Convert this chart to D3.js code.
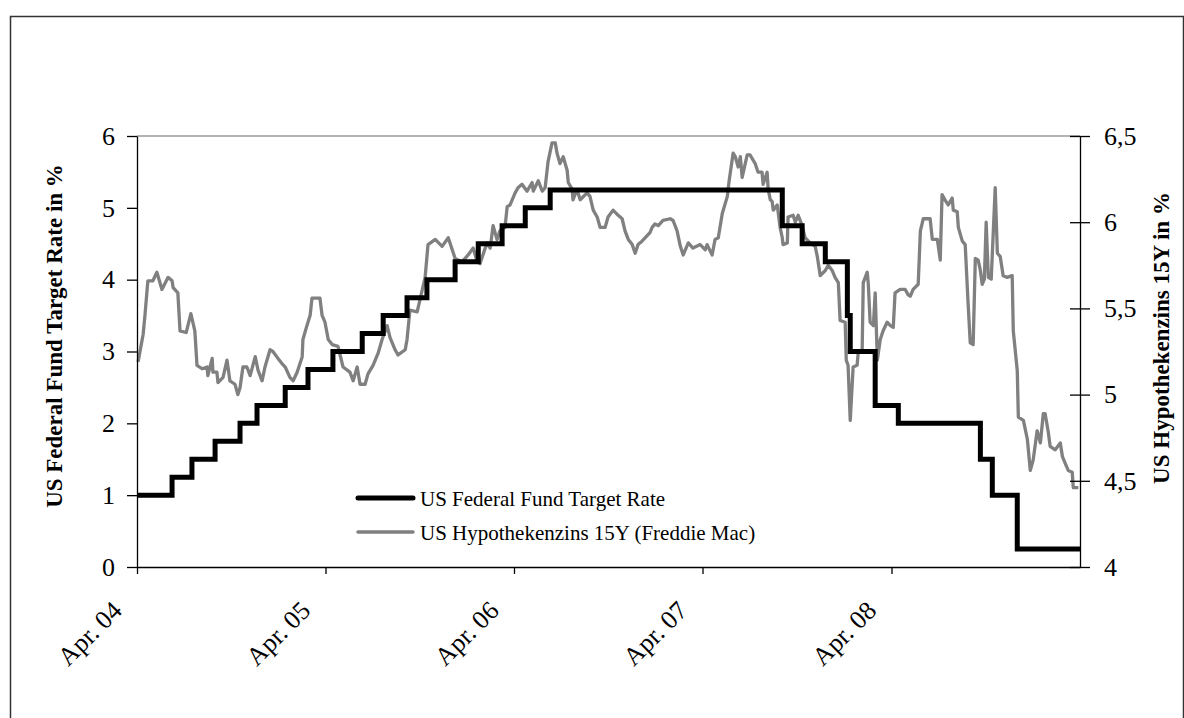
<!DOCTYPE html>
<html>
<head>
<meta charset="utf-8">
<script src="https://cdn.jsdelivr.net/npm/d3@7"></script>
<style>
  body { margin: 0; background: #fff; }
  svg text { font-family: "Liberation Serif", "Times New Roman", serif; }
</style>
</head>
<body>
<script>
// weeks counted from the first observation (22 Apr 2004)
var startDate = new Date(2004, 3, 22);
var endDate = new Date(2009, 3, 22);

var tickDates = ["2004-04-22", "2005-04-22", "2006-04-22", "2007-04-22", "2008-04-22"];
var tickLabels = ["Apr. 04", "Apr. 05", "Apr. 06", "Apr. 07", "Apr. 08"];

var leftTicks = [0, 1, 2, 3, 4, 5, 6];
var rightTicks = [4, 4.5, 5, 5.5, 6, 6.5];

// US Federal Fund Target Rate (step series)
var fedWeeks = [0, 9.7, 15.2, 21.6, 28.5, 33.2, 41.0, 47.3, 54.2, 62.3, 68.1, 74.7, 80.2, 88.0, 94.4,
  101.0, 107.4, 114.3, 178.5, 184.0, 190.4, 196.5, 197.3, 204.2, 210.6, 233.3, 236.6, 243.5, 260.9];
var fedRates = [1, 1.25, 1.5, 1.75, 2, 2.25, 2.5, 2.75, 3, 3.25, 3.5, 3.75, 4, 4.25, 4.5,
  4.75, 5, 5.25, 4.75, 4.5, 4.25, 3.5, 3, 2.25, 2, 1.5, 1, 0.25, 0.25];

// US Hypothekenzins 15Y (Freddie Mac)
var mortWeeks = [0.3, 1.7, 2.2, 3.0, 4.4, 5.5, 6.9, 8.6, 9.7, 10.0, 11.3, 11.9, 13.6, 14.9, 16.0, 16.6,
  18.0, 19.4, 19.6, 20.8, 21.0, 22.1, 22.4, 23.8, 24.9, 25.7, 27.1, 27.9, 28.5, 29.3, 30.4, 31.3,
  32.7, 33.5, 34.6, 35.4, 36.8, 37.6, 39.0, 40.1, 41.0, 42.3, 43.2, 44.3, 45.7, 45.9, 47.0, 47.9,
  48.4, 50.6, 51.2, 52.0, 52.9, 54.0, 55.6, 57.0, 58.9, 59.8, 60.9, 61.7, 63.1, 63.9, 65.3, 66.7,
  67.8, 69.2, 70.0, 71.4, 72.2, 74.2, 74.7, 75.5, 77.5, 79.7, 80.5, 82.5, 84.4, 86.1, 88.0, 89.9,
  91.6, 93.0, 94.1, 94.9, 96.8, 97.7, 98.5, 99.6, 100.4, 101.8, 102.4, 103.2, 104.6, 105.4, 106.5,
  107.9, 109.3, 109.6, 111.0, 112.1, 112.9, 113.7, 114.8, 115.7, 116.2, 117.0, 117.9, 119.0, 119.3,
  120.4, 120.6, 121.7, 122.6, 124.5, 125.3, 126.2, 127.3, 128.1, 129.5, 130.3, 131.7, 133.1, 134.2,
  135.0, 135.9, 137.0, 137.8, 138.6, 139.7, 140.6, 141.9, 142.5, 143.3, 144.2, 145.5, 147.5, 148.3,
  149.4, 150.3, 151.1, 152.5, 153.8, 155.8, 157.2, 157.7, 159.1, 159.9, 160.8, 161.9, 163.3, 163.8,
  164.9, 165.5, 166.3, 166.9, 167.4, 168.8, 169.6, 171.0, 171.8, 172.9, 173.2, 174.3, 174.6, 175.2,
  175.7, 176.0, 177.1, 177.9, 178.5, 178.7, 179.9, 180.1, 181.5, 182.1, 182.9, 184.0, 184.8, 186.2,
  187.6, 188.2, 189.0, 190.4, 191.2, 192.3, 193.1, 194.0, 194.5, 195.9, 196.2, 196.7, 197.3, 198.1,
  199.2, 199.5, 200.6, 200.9, 202.0, 202.3, 202.8, 203.7, 204.2, 204.8, 205.6, 206.4, 207.5, 208.4,
  209.2, 209.7, 211.1, 212.5, 213.3, 213.9, 214.7, 216.1, 216.7, 217.5, 219.4, 220.0, 221.4, 222.2,
  222.7, 223.5, 224.4, 225.5, 225.8, 226.9, 227.2, 228.3, 229.1, 229.9, 230.5, 231.3, 231.9, 232.7,
  233.3, 233.8, 234.4, 234.9, 235.5, 236.3, 237.4, 238.0, 238.8, 239.6, 240.7, 242.1, 242.4, 243.5,
  243.8, 245.2, 246.3, 247.1, 247.9, 249.0, 249.9, 250.7, 251.2, 252.1, 252.6, 254.0, 255.4, 256.0,
  256.8, 257.6, 258.7, 259.0, 260.4];
var mortRates = [5.19, 5.35, 5.46, 5.66, 5.66, 5.71, 5.61, 5.68, 5.66, 5.62, 5.59, 5.37, 5.36, 5.47, 5.37, 5.17,
  5.15, 5.16, 5.11, 5.21, 5.13, 5.13, 5.07, 5.10, 5.20, 5.08, 5.06, 5.00, 5.04, 5.16, 5.16, 5.11,
  5.22, 5.14, 5.08, 5.16, 5.26, 5.25, 5.21, 5.18, 5.16, 5.10, 5.08, 5.13, 5.22, 5.32, 5.40, 5.46,
  5.56, 5.56, 5.46, 5.42, 5.32, 5.29, 5.28, 5.16, 5.13, 5.08, 5.16, 5.06, 5.06, 5.12, 5.17, 5.24,
  5.32, 5.40, 5.33, 5.26, 5.23, 5.26, 5.32, 5.49, 5.48, 5.68, 5.87, 5.90, 5.86, 5.91, 5.79, 5.77,
  5.81, 5.85, 5.77, 5.76, 5.88, 5.85, 5.98, 5.90, 5.95, 5.97, 6.09, 6.10, 6.17, 6.20, 6.22,
  6.18, 6.23, 6.18, 6.24, 6.18, 6.20, 6.35, 6.46, 6.46, 6.40, 6.34, 6.38, 6.30, 6.23,
  6.19, 6.13, 6.19, 6.13, 6.17, 6.15, 6.07, 6.03, 5.97, 5.97, 6.03, 6.07, 6.04, 6.02,
  5.95, 5.90, 5.87, 5.82, 5.87, 5.89, 5.91, 5.94, 5.97, 5.99, 5.98, 6.01, 6.02, 6.01,
  5.95, 5.86, 5.81, 5.88, 5.85, 5.87, 5.84, 5.87, 5.81, 5.90, 5.91, 6.05, 6.15, 6.24,
  6.40, 6.38, 6.32, 6.38, 6.26, 6.39, 6.39, 6.34, 6.29, 6.29, 6.22, 6.29, 6.19, 6.13,
  6.12, 6.07, 6.10, 5.97, 5.91, 5.87, 5.88, 6.03, 6.04, 6.00, 6.04, 5.98, 5.91, 5.88,
  5.86, 5.80, 5.69, 5.72, 5.75, 5.72, 5.68, 5.65, 5.43, 5.42, 5.20, 5.17, 4.85, 5.16,
  5.17, 5.24, 5.26, 5.65, 5.71, 5.64, 5.42, 5.40, 5.59, 5.20, 5.32, 5.37, 5.42, 5.40,
  5.39, 5.59, 5.61, 5.61, 5.58, 5.57, 5.61, 5.64, 5.95, 6.02, 6.02, 5.90, 5.90, 5.78,
  6.16, 6.13, 6.10, 6.14, 6.07, 6.06, 5.97, 5.89, 5.87, 5.53, 5.30, 5.29, 5.79, 5.78,
  5.72, 5.64, 5.67, 6.00, 5.68, 5.67, 6.20, 5.82, 5.80, 5.69, 5.68, 5.69, 5.37, 5.14,
  4.87, 4.85, 4.74, 4.56, 4.62, 4.79, 4.72, 4.89, 4.89, 4.78, 4.70, 4.68, 4.72, 4.64,
  4.60, 4.56, 4.55, 4.46, 4.46];

var seriesNames = ["US Federal Fund Target Rate", "US Hypothekenzins 15Y (Freddie Mac)"];
var leftTitle = "US Federal Fund Target Rate in %";
var rightTitle = "US Hypothekenzins 15Y in %";

var w = 1184;
var h = 718;
var plot = {left: 137, right: 1080, top: 136, bottom: 567};

function weekToDate(wk) {
	return new Date(startDate.getTime() + wk * 7 * 864e5);
}

var parseDate = d3.timeParse("%Y-%m-%d");

var x = d3.scaleTime()
	.domain([startDate, endDate])
	.range([plot.left, plot.right]);

var yLeft = d3.scaleLinear()
	.domain([0, 6])
	.range([plot.bottom, plot.top]);

var yRight = d3.scaleLinear()
	.domain([4, 6.5])
	.range([plot.bottom, plot.top]);

var de = d3.formatLocale({decimal: ",", thousands: ".", grouping: [3], currency: ["", " €"]});
var fmtRight = de.format("~g");

var fedData = fedWeeks.map(function(wk, i) {
	return {date: weekToDate(wk), value: fedRates[i]};
});
var mortData = mortWeeks.map(function(wk, i) {
	return {date: weekToDate(wk), value: mortRates[i]};
});

//Create SVG element
var svg = d3.select("body")
			.append("svg")
			.attr("width", w)
			.attr("height", h);

// outer frame
svg.append("rect")
	.attr("x", 10.5)
	.attr("y", 16.5)
	.attr("width", 1173)
	.attr("height", 720)
	.attr("fill", "none")
	.attr("stroke", "#333")
	.attr("stroke-width", 1.5);

// top edge of plot area
svg.append("line")
	.attr("x1", plot.left)
	.attr("x2", plot.right)
	.attr("y1", plot.top)
	.attr("y2", plot.top)
	.attr("stroke", "#9a9a9a")
	.attr("stroke-width", 1.5);

// lines
var fedLine = d3.line()
	.curve(d3.curveStepAfter)
	.x(function(d) { return x(d.date); })
	.y(function(d) { return yLeft(d.value); });

var mortLine = d3.line()
	.x(function(d) { return x(d.date); })
	.y(function(d) { return yRight(d.value); });

svg.append("path")
	.datum(mortData)
	.attr("fill", "none")
	.attr("stroke", "#808080")
	.attr("stroke-width", 3.3)
	.attr("stroke-linejoin", "round")
	.attr("d", mortLine);

svg.append("path")
	.datum(fedData)
	.attr("fill", "none")
	.attr("stroke", "#000")
	.attr("stroke-width", 5)
	.attr("d", fedLine);

// axes
var leftAxis = svg.append("g")
	.attr("transform", "translate(" + plot.left + ",0)")
	.call(d3.axisLeft(yLeft).tickValues(leftTicks).tickSize(10).tickSizeOuter(0).tickPadding(12)
		.tickFormat(d3.format("d")));

var rightAxis = svg.append("g")
	.attr("transform", "translate(" + plot.right + ",0)")
	.call(d3.axisRight(yRight).tickValues(rightTicks).tickSize(10).tickSizeOuter(0).tickPadding(14)
		.tickFormat(fmtRight));

// right ticks also cross into the plot
rightAxis.selectAll(".tick")
	.append("line")
	.attr("x1", -10)
	.attr("x2", 0)
	.attr("stroke", "currentColor");

var bottomAxis = svg.append("g")
	.attr("transform", "translate(0," + plot.bottom + ")")
	.call(d3.axisBottom(x).tickValues(tickDates.map(parseDate)).tickSize(7).tickSizeOuter(0)
		.tickFormat(function(d, i) { return tickLabels[i]; }));

bottomAxis.selectAll("text")
	.attr("y", 0)
	.attr("dy", 0)
	.attr("text-anchor", "end")
	.attr("transform", "translate(-14,45) rotate(-45)");

svg.selectAll(".domain, .tick line")
	.attr("stroke", "#000")
	.attr("stroke-width", 1.3);

svg.selectAll(".tick text")
	.attr("font-size", 26)
	.attr("font-family", "Liberation Serif")
	.attr("fill", "#000");

// axis titles
svg.append("text")
	.attr("transform", "translate(62,336) rotate(-90)")
	.attr("text-anchor", "middle")
	.attr("font-size", 23)
	.attr("font-weight", "bold")
	.text(leftTitle);

svg.append("text")
	.attr("transform", "translate(1169,338) rotate(-90)")
	.attr("text-anchor", "middle")
	.attr("font-size", 23)
	.attr("font-weight", "bold")
	.text(rightTitle);

// legend
var legend = svg.append("g")
	.attr("transform", "translate(358,498)");

var legendStyles = [{stroke: "#000", width: 5}, {stroke: "#808080", width: 3.5}];

legend.selectAll("line")
	.data(seriesNames)
	.enter()
	.append("line")
	.attr("x1", 0)
	.attr("x2", 55)
	.attr("y1", function(d, i) { return i * 34; })
	.attr("y2", function(d, i) { return i * 34; })
	.attr("stroke", function(d, i) { return legendStyles[i].stroke; })
	.attr("stroke-width", function(d, i) { return legendStyles[i].width; })
	.attr("stroke-linecap", "round");

legend.selectAll("text")
	.data(seriesNames)
	.enter()
	.append("text")
	.attr("x", 62)
	.attr("y", function(d, i) { return i * 34 + 8; })
	.attr("font-size", 21)
	.text(function(d) { return d; });
</script>
</body>
</html>
